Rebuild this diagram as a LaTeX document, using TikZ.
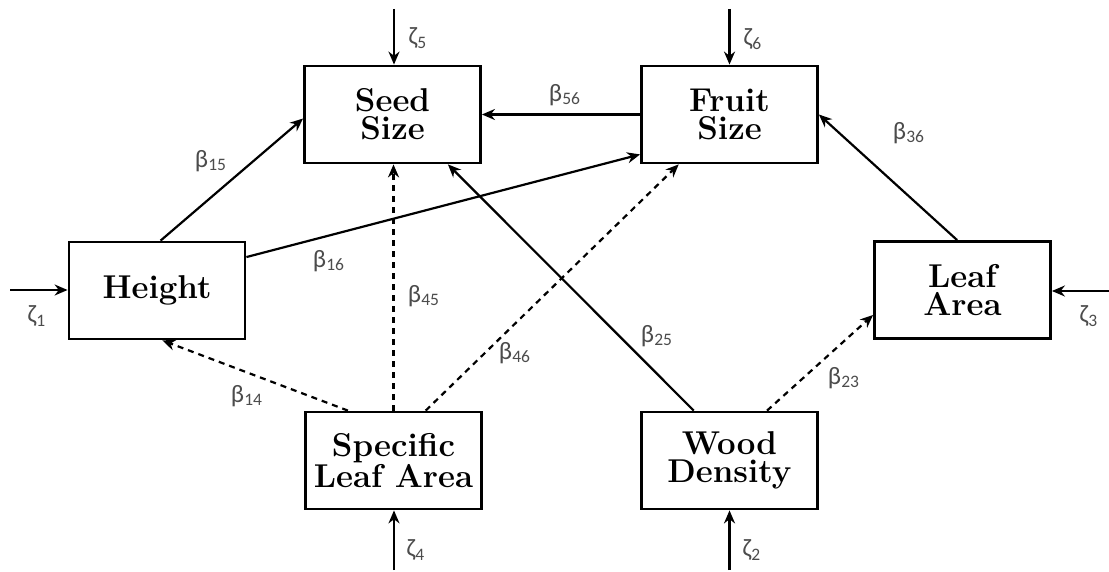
\documentclass[tikz,border=0pt]{standalone}
\usepackage{fontspec}
\newfontfamily\labfont{Carlito}
\usetikzlibrary{arrows.meta,calc}
\tikzset{
 box/.style={draw,line width=1.4pt,minimum width=88pt,minimum height=48.5pt,inner sep=0pt,align=center,font=\fontsize{16.5}{14}\selectfont\bfseries},
 conn/.style={line width=1.1pt,-{Stealth[length=6.5pt,width=5.5pt]}},
 dconn/.style={conn,dash pattern=on 3pt off 2.5pt},
 lab/.style={font=\labfont\fontsize{12.5}{14}\selectfont,text=black!70,inner sep=0pt},
}
\begin{document}
\begin{tikzpicture}[x=0.5pt,y=-0.5pt]
\useasboundingbox (0,0) rectangle (1109,572);
% boxes
\node[box] (seed) at (392.5,114.5) {Seed\\Size};
\node[box] (fruit) at (729.5,114.5) {Fruit\\Size};
\node[box] (height) at (157,290.5) {Height};
\node[box] (leaf) at (962.5,290) {Leaf\\Area};
\node[box] (sla) at (393.5,460.5) {Specific\\Leaf Area};
\node[box] (wood) at (729.5,460.5) {Wood\\Density};
% error terms
\coordinate (z5) at (394,9);
\coordinate (z6) at (729.5,9);
\coordinate (z1) at (10,290);
\coordinate (z3) at (1109,291);
\coordinate (z4) at (394,570);
\coordinate (z2) at (729.5,570);
\draw[conn] (z5) -- (z5 |- seed.north);
\draw[conn] (z6) -- (z6 |- fruit.north);
\draw[conn] (z1) -- (z1 -| height.west);
\draw[conn] (z3) -- (z3 -| leaf.east);
\draw[conn] (z4) -- (z4 |- sla.south);
\draw[conn] (z2) -- (z2 |- wood.south);
\node[lab] (lz5) at (418,38) {ζ\textsubscript{5}};
\node[lab] (lz6) at (753,39) {ζ\textsubscript{6}};
\node[lab] (lz1) at (37,316) {ζ\textsubscript{1}};
\node[lab] (lz3) at (1089,316) {ζ\textsubscript{3}};
\node[lab] (lz4) at (416,550) {ζ\textsubscript{4}};
\node[lab] (lz2) at (752,550) {ζ\textsubscript{2}};
% paths
\draw[conn] (fruit.west) -- (seed.east);
\draw[conn] ($(height.north west)!0.52!(height.north east)$) -- ($(seed.north west)!0.54!(seed.south west)$);
\draw[conn] ($(height.north east)!0.165!(height.south east)$) -- ($(fruit.north west)!0.9!(fruit.south west)$);
\draw[dconn] (sla.north) -- (sla.north |- seed.south);
\draw[dconn] ($(sla.north west)!0.245!(sla.north east)$) -- ($(height.south west)!0.53!(height.south east)$);
\draw[dconn] ($(sla.north west)!0.68!(sla.north east)$) -- ($(fruit.south west)!0.216!(fruit.south east)$);
\draw[conn] ($(wood.north west)!0.30!(wood.north east)$) -- ($(seed.south west)!0.81!(seed.south east)$);
\draw[dconn] ($(wood.north west)!0.71!(wood.north east)$) -- ($(leaf.north west)!0.75!(leaf.south west)$);
\draw[conn] ($(leaf.north west)!0.47!(leaf.north east)$) -- (fruit.east);
% labels
\node[lab] (b56) at (565,95) {β\textsubscript{56}};
\node[lab] (b15) at (211,161) {β\textsubscript{15}};
\node[lab] (b16) at (329,261) {β\textsubscript{16}};
\node[lab] (b45) at (424,296) {β\textsubscript{45}};
\node[lab] (b46) at (515,353) {β\textsubscript{46}};
\node[lab] (b14) at (247,396) {β\textsubscript{14}};
\node[lab] (b25) at (657,336) {β\textsubscript{25}};
\node[lab] (b36) at (909,133) {β\textsubscript{36}};
\node[lab] (b23) at (844,378) {β\textsubscript{23}};
\end{tikzpicture}
\end{document}
